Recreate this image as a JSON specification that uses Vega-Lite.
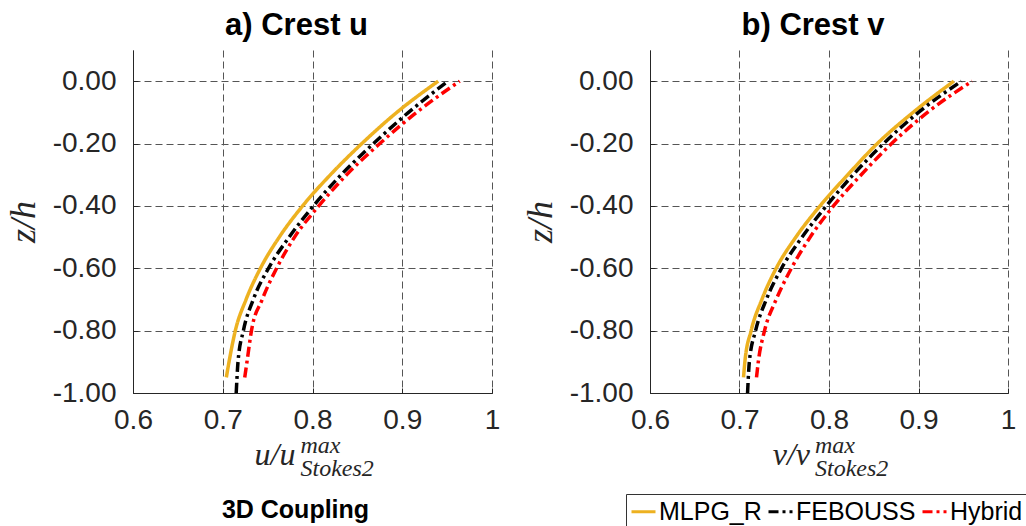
{
  "$schema": "https://vega.github.io/schema/vega-lite/v6.json",
  "background": "white",
  "padding": {"left": 5, "top": 10, "right": 0, "bottom": 0},
  "spacing": 22,
  "datasets": {
    "profiles": [
      {"panel": "u", "model": "MLPG_R", "z": 0.0, "val": 0.940},
      {"panel": "u", "model": "MLPG_R", "z": -0.1, "val": 0.894},
      {"panel": "u", "model": "MLPG_R", "z": -0.2, "val": 0.855},
      {"panel": "u", "model": "MLPG_R", "z": -0.3, "val": 0.820},
      {"panel": "u", "model": "MLPG_R", "z": -0.4, "val": 0.789},
      {"panel": "u", "model": "MLPG_R", "z": -0.5, "val": 0.763},
      {"panel": "u", "model": "MLPG_R", "z": -0.6, "val": 0.742},
      {"panel": "u", "model": "MLPG_R", "z": -0.7, "val": 0.726},
      {"panel": "u", "model": "MLPG_R", "z": -0.8, "val": 0.714},
      {"panel": "u", "model": "MLPG_R", "z": -0.9, "val": 0.707},
      {"panel": "u", "model": "MLPG_R", "z": -0.95, "val": 0.704},
      {"panel": "u", "model": "FEBOUSS", "z": 0.0, "val": 0.951},
      {"panel": "u", "model": "FEBOUSS", "z": -0.1, "val": 0.907},
      {"panel": "u", "model": "FEBOUSS", "z": -0.2, "val": 0.868},
      {"panel": "u", "model": "FEBOUSS", "z": -0.3, "val": 0.832},
      {"panel": "u", "model": "FEBOUSS", "z": -0.4, "val": 0.801},
      {"panel": "u", "model": "FEBOUSS", "z": -0.5, "val": 0.774},
      {"panel": "u", "model": "FEBOUSS", "z": -0.6, "val": 0.751},
      {"panel": "u", "model": "FEBOUSS", "z": -0.7, "val": 0.734},
      {"panel": "u", "model": "FEBOUSS", "z": -0.8, "val": 0.723},
      {"panel": "u", "model": "FEBOUSS", "z": -0.9, "val": 0.717},
      {"panel": "u", "model": "FEBOUSS", "z": -1.0, "val": 0.715},
      {"panel": "u", "model": "Hybrid", "z": 0.0, "val": 0.964},
      {"panel": "u", "model": "Hybrid", "z": -0.1, "val": 0.916},
      {"panel": "u", "model": "Hybrid", "z": -0.2, "val": 0.875},
      {"panel": "u", "model": "Hybrid", "z": -0.3, "val": 0.838},
      {"panel": "u", "model": "Hybrid", "z": -0.4, "val": 0.807},
      {"panel": "u", "model": "Hybrid", "z": -0.5, "val": 0.780},
      {"panel": "u", "model": "Hybrid", "z": -0.6, "val": 0.760},
      {"panel": "u", "model": "Hybrid", "z": -0.7, "val": 0.744},
      {"panel": "u", "model": "Hybrid", "z": -0.8, "val": 0.732},
      {"panel": "u", "model": "Hybrid", "z": -0.9, "val": 0.727},
      {"panel": "u", "model": "Hybrid", "z": -0.95, "val": 0.7245},
      {"panel": "v", "model": "MLPG_R", "z": 0.0, "val": 0.9395},
      {"panel": "v", "model": "MLPG_R", "z": -0.1, "val": 0.894},
      {"panel": "v", "model": "MLPG_R", "z": -0.2, "val": 0.854},
      {"panel": "v", "model": "MLPG_R", "z": -0.3, "val": 0.821},
      {"panel": "v", "model": "MLPG_R", "z": -0.4, "val": 0.790},
      {"panel": "v", "model": "MLPG_R", "z": -0.5, "val": 0.763},
      {"panel": "v", "model": "MLPG_R", "z": -0.6, "val": 0.741},
      {"panel": "v", "model": "MLPG_R", "z": -0.7, "val": 0.725},
      {"panel": "v", "model": "MLPG_R", "z": -0.8, "val": 0.713},
      {"panel": "v", "model": "MLPG_R", "z": -0.9, "val": 0.706},
      {"panel": "v", "model": "MLPG_R", "z": -0.95, "val": 0.7045},
      {"panel": "v", "model": "FEBOUSS", "z": 0.0, "val": 0.948},
      {"panel": "v", "model": "FEBOUSS", "z": -0.1, "val": 0.900},
      {"panel": "v", "model": "FEBOUSS", "z": -0.2, "val": 0.861},
      {"panel": "v", "model": "FEBOUSS", "z": -0.3, "val": 0.827},
      {"panel": "v", "model": "FEBOUSS", "z": -0.4, "val": 0.797},
      {"panel": "v", "model": "FEBOUSS", "z": -0.5, "val": 0.770},
      {"panel": "v", "model": "FEBOUSS", "z": -0.6, "val": 0.747},
      {"panel": "v", "model": "FEBOUSS", "z": -0.7, "val": 0.730},
      {"panel": "v", "model": "FEBOUSS", "z": -0.8, "val": 0.718},
      {"panel": "v", "model": "FEBOUSS", "z": -0.9, "val": 0.711},
      {"panel": "v", "model": "FEBOUSS", "z": -1.0, "val": 0.709},
      {"panel": "v", "model": "Hybrid", "z": 0.0, "val": 0.960},
      {"panel": "v", "model": "Hybrid", "z": -0.1, "val": 0.910},
      {"panel": "v", "model": "Hybrid", "z": -0.2, "val": 0.870},
      {"panel": "v", "model": "Hybrid", "z": -0.3, "val": 0.836},
      {"panel": "v", "model": "Hybrid", "z": -0.4, "val": 0.805},
      {"panel": "v", "model": "Hybrid", "z": -0.5, "val": 0.779},
      {"panel": "v", "model": "Hybrid", "z": -0.6, "val": 0.758},
      {"panel": "v", "model": "Hybrid", "z": -0.7, "val": 0.741},
      {"panel": "v", "model": "Hybrid", "z": -0.8, "val": 0.728},
      {"panel": "v", "model": "Hybrid", "z": -0.9, "val": 0.721},
      {"panel": "v", "model": "Hybrid", "z": -0.95, "val": 0.719}
    ]
  },
  "config": {
    "view": {"stroke": null},
    "axis": {
      "domainColor": "#262626",
      "domainWidth": 1,
      "tickColor": "#262626",
      "labelColor": "#262626",
      "labelFont": "Liberation Sans",
      "labelFontSize": 28,
      "gridColor": "#555555",
      "gridDash": [7, 4],
      "gridWidth": 1,
      "gridOpacity": 1,
      "titleFont": "Liberation Serif",
      "titleFontStyle": "italic",
      "titleFontWeight": "normal",
      "titleColor": "#262626",
      "titleFontSize": 36
    },
    "legend": {
      "labelFont": "Liberation Sans",
      "labelFontSize": 25,
      "labelColor": "#000000",
      "symbolType": "stroke",
      "symbolSize": 576,
      "symbolStrokeWidth": 3,
      "labelOffset": 2,
      "columnPadding": 0,
      "padding": 4,
      "strokeColor": "#333333",
      "fillColor": "white"
    },
    "title": {
      "font": "Liberation Sans",
      "fontSize": 31,
      "fontWeight": "bold",
      "color": "#000000",
      "offset": 8,
      "dx": -16
    }
  },
  "hconcat": [
    {
      "title": {"text": "a) Crest u"},
      "width": 359,
      "height": 343,
      "layer": [
        {
          "data": {"name": "profiles"},
          "transform": [{"filter": "datum.panel === 'u'"}],
          "mark": {"type": "line", "strokeWidth": 3.5, "interpolate": "monotone", "clip": true},
          "encoding": {
            "x": {
              "field": "val", "type": "quantitative",
              "scale": {"domain": [0.6, 1], "nice": false, "zero": false},
              "axis": {"title": null, "values": [0.6, 0.7, 0.8, 0.9, 1], "labelExpr": "format(datum.value, '~g')", "labelFlush": false, "labelOverlap": false, "tickSize": -5, "labelPadding": 18, "grid": true}
            },
            "y": {
              "field": "z", "type": "quantitative",
              "scale": {"domain": [-1, 0.1], "nice": false, "zero": false},
              "axis": {"title": "z/h", "values": [-1, -0.8, -0.6, -0.4, -0.2, 0], "labelExpr": "replace(format(datum.value, '.2f'), '\u2212', '-')", "tickSize": -5, "labelPadding": 22, "titlePadding": 10, "grid": true}
            },
            "color": {
              "field": "model", "type": "nominal",
              "scale": {"domain": ["MLPG_R", "FEBOUSS", "Hybrid"], "range": ["#EDB120", "#000000", "#FF0000"]},
              "legend": {"title": null, "orient": "none", "direction": "horizontal", "legendX": 493, "legendY": 444}
            },
            "strokeDash": {
              "field": "model", "type": "nominal",
              "scale": {"domain": ["MLPG_R", "FEBOUSS", "Hybrid"], "range": [[1, 0], [10, 4, 3, 4], [10, 4, 3, 4]]},
              "legend": {"title": null, "orient": "none", "direction": "horizontal", "legendX": 493, "legendY": 444}
            }
          }
        },
        {
          "data": {"values": [{"t": "u/u"}]},
          "mark": {"type": "text", "align": "right", "baseline": "alphabetic", "dx": -17, "dy": 72, "font": "Liberation Serif", "fontStyle": "italic", "fontSize": 32, "color": "#262626"},
          "encoding": {"x": {"datum": 0.8, "title": null}, "y": {"datum": -1, "title": null}, "text": {"field": "t"}}
        },
        {
          "data": {"values": [{"t": "max"}]},
          "mark": {"type": "text", "align": "left", "baseline": "alphabetic", "dx": -12, "dy": 60, "font": "Liberation Serif", "fontStyle": "italic", "fontSize": 24, "color": "#262626"},
          "encoding": {"x": {"datum": 0.8, "title": null}, "y": {"datum": -1, "title": null}, "text": {"field": "t"}}
        },
        {
          "data": {"values": [{"t": "Stokes2"}]},
          "mark": {"type": "text", "align": "left", "baseline": "alphabetic", "dx": -12, "dy": 83, "font": "Liberation Serif", "fontStyle": "italic", "fontSize": 24, "color": "#262626"},
          "encoding": {"x": {"datum": 0.8, "title": null}, "y": {"datum": -1, "title": null}, "text": {"field": "t"}}
        },
        {
          "data": {"values": [{"t": "3D Coupling"}]},
          "mark": {"type": "text", "align": "center", "baseline": "alphabetic", "dx": -17, "dy": 125, "font": "Liberation Sans", "fontWeight": "bold", "fontSize": 25, "color": "#000000"},
          "encoding": {"x": {"datum": 0.8, "title": null}, "y": {"datum": -1, "title": null}, "text": {"field": "t"}}
        }
      ]
    },
    {
      "title": {"text": "b) Crest v"},
      "width": 358,
      "height": 343,
      "layer": [
        {
          "data": {"name": "profiles"},
          "transform": [{"filter": "datum.panel === 'v'"}],
          "mark": {"type": "line", "strokeWidth": 3.5, "interpolate": "monotone", "clip": true},
          "encoding": {
            "x": {
              "field": "val", "type": "quantitative",
              "scale": {"domain": [0.6, 1], "nice": false, "zero": false},
              "axis": {"title": null, "values": [0.6, 0.7, 0.8, 0.9, 1], "labelExpr": "format(datum.value, '~g')", "labelFlush": false, "labelOverlap": false, "tickSize": -5, "labelPadding": 18, "grid": true}
            },
            "y": {
              "field": "z", "type": "quantitative",
              "scale": {"domain": [-1, 0.1], "nice": false, "zero": false},
              "axis": {"title": "z/h", "values": [-1, -0.8, -0.6, -0.4, -0.2, 0], "labelExpr": "replace(format(datum.value, '.2f'), '\u2212', '-')", "tickSize": -5, "labelPadding": 22, "titlePadding": 10, "grid": true}
            },
            "color": {
              "field": "model", "type": "nominal",
              "scale": {"domain": ["MLPG_R", "FEBOUSS", "Hybrid"], "range": ["#EDB120", "#000000", "#FF0000"]},
              "legend": {"title": null, "orient": "none", "direction": "horizontal", "legendX": 493, "legendY": 444}
            },
            "strokeDash": {
              "field": "model", "type": "nominal",
              "scale": {"domain": ["MLPG_R", "FEBOUSS", "Hybrid"], "range": [[1, 0], [10, 4, 3, 4], [10, 4, 3, 4]]},
              "legend": {"title": null, "orient": "none", "direction": "horizontal", "legendX": 493, "legendY": 444}
            }
          }
        },
        {
          "data": {"values": [{"t": "v/v"}]},
          "mark": {"type": "text", "align": "right", "baseline": "alphabetic", "dx": -19, "dy": 72, "font": "Liberation Serif", "fontStyle": "italic", "fontSize": 32, "color": "#262626"},
          "encoding": {"x": {"datum": 0.8, "title": null}, "y": {"datum": -1, "title": null}, "text": {"field": "t"}}
        },
        {
          "data": {"values": [{"t": "max"}]},
          "mark": {"type": "text", "align": "left", "baseline": "alphabetic", "dx": -14, "dy": 60, "font": "Liberation Serif", "fontStyle": "italic", "fontSize": 24, "color": "#262626"},
          "encoding": {"x": {"datum": 0.8, "title": null}, "y": {"datum": -1, "title": null}, "text": {"field": "t"}}
        },
        {
          "data": {"values": [{"t": "Stokes2"}]},
          "mark": {"type": "text", "align": "left", "baseline": "alphabetic", "dx": -14, "dy": 83, "font": "Liberation Serif", "fontStyle": "italic", "fontSize": 24, "color": "#262626"},
          "encoding": {"x": {"datum": 0.8, "title": null}, "y": {"datum": -1, "title": null}, "text": {"field": "t"}}
        }
      ]
    }
  ]
}
